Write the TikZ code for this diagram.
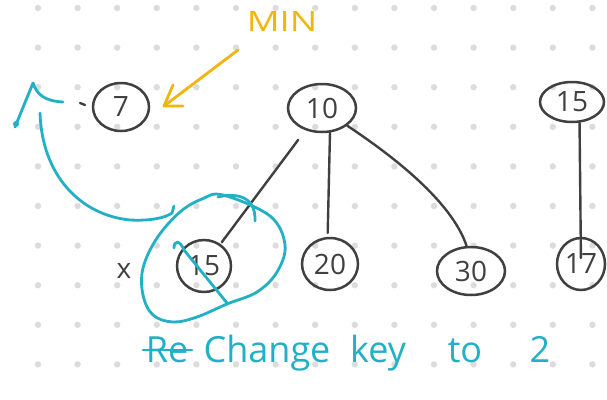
\documentclass[tikz,border=0pt]{standalone}
\usepackage{fontspec}
\setmainfont{Open Sans}
\usetikzlibrary{shapes.geometric}
\definecolor{pen}{HTML}{404040}
\definecolor{hlblue}{HTML}{22B0C6}
\definecolor{hlorange}{HTML}{F2B50C}
\definecolor{griddot}{HTML}{DCDCDC}
\tikzset{
  hnode/.style={ellipse,draw=pen,line width=2.5pt,inner sep=0pt,text=pen,font=\fontsize{28}{28}\selectfont},
  edge/.style={draw=pen,line width=2.4pt,line cap=round},
  bluestroke/.style={draw=hlblue,line width=2.8pt,line cap=round,line join=round},
  orangestroke/.style={draw=hlorange,line width=2.8pt,line cap=round,line join=round},
  bluetext/.style={text=hlblue,font=\fontsize{36}{36}\selectfont,anchor=base,inner sep=0pt}
}
\begin{document}
\begin{tikzpicture}[x=1pt,y=-1pt]
\useasboundingbox (0,0) rectangle (607,399);
\fill[white] (0,0) rectangle (607,399);
% dot grid
\foreach \i in {0,...,15}{
  \foreach \j in {0,...,9}{
    \fill[griddot] ({38+39.6*\i},{8+39.6*\j}) circle (3.2pt);
  }
}
% nodes
\node[hnode,minimum width=56pt,minimum height=48pt] (n7) at (121,107) {7};
\node[hnode,minimum width=68pt,minimum height=48pt] (n10) at (322,108) {10};
\node[hnode,minimum width=64pt,minimum height=40pt] (n15a) at (572,102) {15};
\node[hnode,minimum width=54pt,minimum height=52pt] (n15b) at (204,266) {15};
\node[hnode,minimum width=56pt,minimum height=52pt] (n20) at (330,264) {20};
\node[hnode,minimum width=68pt,minimum height=48pt] (n30) at (471,271) {30};
\node[hnode,minimum width=48pt,minimum height=52pt] (n17) at (581,264) {17};
% edges
\draw[edge,shorten <=12pt,shorten >=2pt] (n10) -- (n15b);
\draw[edge,shorten >=4pt] (n10.-72) -- (n20.95);
\draw[edge] (n10.-35) .. controls +(45,30) and +(-15,-45) .. (n30.100);
\draw[edge,shorten >=6pt] (n15a.-70) -- (n17.center);
% small dash and x
\coordinate (dashA) at (80,103);
\coordinate (dashB) at (85,105);
\draw[edge] (dashA) -- (dashB);
\node[text=pen,font=\fontsize{28}{28}\selectfont,inner sep=0pt] (xmark) at (124,271) {x};
% MIN label and arrow
\node[text=hlorange,font=\fontsize{28}{28}\selectfont,inner sep=0pt,xscale=1.3] (minlabel) at (282,22) {MIN};
\coordinate (minstart) at (238,50);
\coordinate (mintip) at (164,106);
\coordinate (minheadA) at (173,85);
\coordinate (minheadB) at (183,106);
\draw[orangestroke] (minstart) -- (mintip);
\draw[orangestroke] (minheadA) -- (mintip) -- (minheadB);
% blue circle around 15
\draw[bluestroke] plot[smooth cycle,tension=0.6] coordinates {(223,195) (270,216) (285,245) (277,272) (257,292) (227,304) (197,317) (173,322) (153,315) (143,295) (143,268) (157,238) (180,212) (202,199)};
\coordinate (hookA) at (218,197);
\coordinate (hookB) at (255,221);
\draw[bluestroke] (hookA) .. controls (235,193) and (256,195) .. (hookB);
% strike through 15
\coordinate (strikeA) at (174,248);
\coordinate (strikeB) at (227,303);
\draw[bluestroke] (strikeA) .. controls (174,240) and (180,240) .. (184,250) -- (strikeB);
% blue curved arrow
\coordinate (arcstart) at (174,206);
\coordinate (arcend) at (40,113);
\draw[bluestroke] (arcstart) -- (172,213) .. controls (165,218) and (150,221) .. (130,220) .. controls (80,215) and (42,175) .. (arcend);
\coordinate (headL) at (15,127);
\coordinate (headT) at (33,83);
\coordinate (headR) at (63,102);
\draw[bluestroke] (headL) -- (headT) .. controls (37,95) and (45,101) .. (headR);
\fill[hlblue] (16,124) circle (3pt);
% bottom text
\node[bluetext] (wre) at (167,362) {Re};
\coordinate (reA) at (143,350);
\coordinate (reB) at (192,350);
\draw[bluestroke] (reA) -- (reB);
\node[bluetext] (wchange) at (267,362) {Change};
\node[bluetext] (wkey) at (378,362) {key};
\node[bluetext] (wto) at (465,362) {to};
\node[bluetext] (wtwo) at (540,362) {2};
\end{tikzpicture}
\end{document}
